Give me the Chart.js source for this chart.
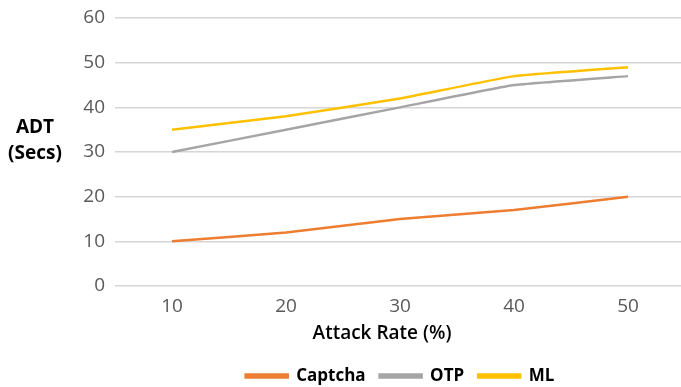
<!DOCTYPE html>
<html>
<head>
<meta charset="utf-8">
<script src="https://cdn.jsdelivr.net/npm/chart.js@4/dist/chart.umd.min.js"></script>
<style>
  html, body { margin: 0; padding: 0; background: #fff; overflow: hidden; }
  #wrap { position: absolute; left: 0; top: 0; width: 802px; height: 387px; }
</style>
</head>
<body>
<div id="wrap"><canvas id="c"></canvas></div>
<script>
// Attack rate categories (x axis) and average detection time per method
const attackRates = ['10', '20', '30', '40', '50'];
const captcha = [10, 12, 15, 17, 20];
const otp = [30, 35, 40, 45, 47];
const ml = [35, 38, 42, 47, 49];

const yTicks = [0, 10, 20, 30, 40, 50, 60];
const yTitleLines = ['ADT', '(Secs)'];
const xTitle = 'Attack Rate (%)';

const FONT = "'Open Sans', 'Noto Sans', sans-serif";

// Axis titles are drawn horizontally beside / below the plot
const axisTitles = {
  id: 'axisTitles',
  afterDraw(chart) {
    const { ctx, chartArea } = chart;
    ctx.save();
    ctx.fillStyle = '#000';
    ctx.textAlign = 'center';
    ctx.textBaseline = 'middle';
    ctx.font = `700 19px ${FONT}`;
    const midY = chart.scales.y.getPixelForValue(32.5);
    ctx.fillText(yTitleLines[0], chartArea.left - 80, midY - 13);
    ctx.fillText(yTitleLines[1], chartArea.left - 80, midY + 13);
    ctx.font = `600 19px ${FONT}`;
    ctx.fillText(xTitle, chartArea.left + 267, chartArea.bottom + 48);
    ctx.restore();
  }
};

// Pull the legend row a little closer to the bottom edge
const tightLegend = {
  id: 'tightLegend',
  beforeLayout(chart) {
    const legend = chart.legend;
    if (!legend || legend._tight) return;
    const fit = legend.fit;
    legend.fit = function () {
      fit.call(this);
      this.height -= 7.5;
    };
    legend._tight = true;
  }
};

const series = [
  { label: 'Captcha', data: captcha, color: '#ED7D31' },
  { label: 'OTP', data: otp, color: '#A5A5A5' },
  { label: 'ML', data: ml, color: '#FFC000' }
];

new Chart(document.getElementById('c'), {
  type: 'line',
  data: {
    labels: attackRates,
    datasets: series.map(s => ({
      label: s.label,
      data: s.data,
      borderColor: s.color,
      backgroundColor: s.color,
      borderWidth: 2.5,
      pointRadius: 0,
      tension: 0.1,
      fill: false
    }))
  },
  options: {
    responsive: true,
    maintainAspectRatio: false,
    animation: false,
    layout: { padding: { top: 8, right: 117, left: 0, bottom: 0 } },
    plugins: {
      tooltip: { enabled: false },
      legend: {
        position: 'bottom',
        fullSize: false,
        labels: {
          boxWidth: 42,
          boxHeight: 3,
          padding: 14,
          color: '#000',
          font: { family: FONT, size: 17, weight: '700' }
        }
      }
    },
    scales: {
      x: {
        offset: true,
        grid: { display: false },
        border: { display: false },
        ticks: { color: '#595959', font: { family: FONT, size: 19 }, padding: 1 },
        afterFit(scale) { scale.height = 67.5; }
      },
      y: {
        min: 0,
        max: 60,
        afterBuildTicks(scale) { scale.ticks = yTicks.map(v => ({ value: v })); },
        grid: { color: '#d6d6d6', lineWidth: 1.6, drawTicks: false },
        border: { display: false },
        ticks: { color: '#595959', font: { family: FONT, size: 19, lineHeight: 0.85 }, padding: 10 },
        afterFit(scale) { scale.width = 115; }
      }
    }
  },
  plugins: [axisTitles, tightLegend]
});
</script>
</body>
</html>
